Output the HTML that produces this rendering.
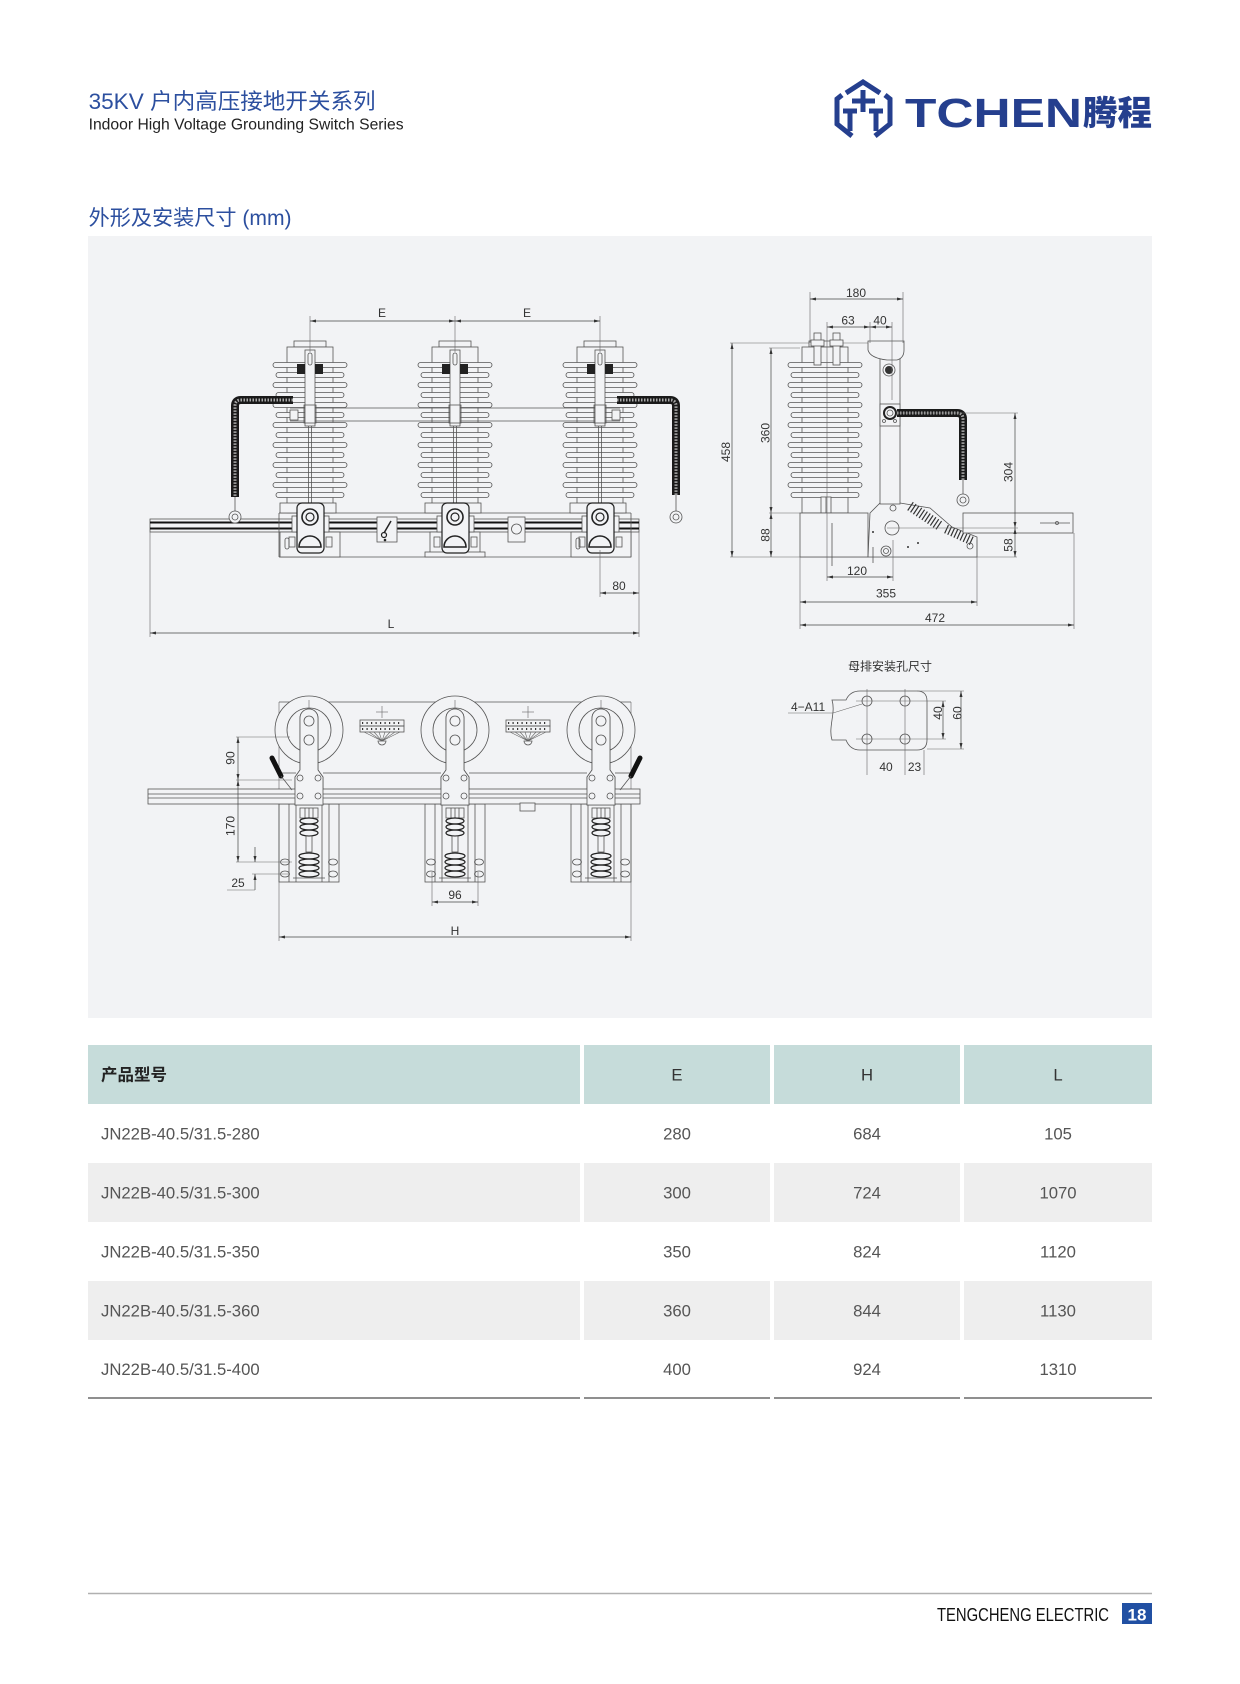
<!DOCTYPE html>
<html><head><meta charset="utf-8"><style>
html,body{margin:0;padding:0;background:#fff}
body{width:1240px;height:1684px;position:relative;overflow:hidden}
svg{position:absolute;left:0;top:0}
.l{stroke:#555;stroke-width:.8;fill:none}
.f{fill:#f2f3f5;stroke:#555;stroke-width:.8}
.d{stroke:#444;stroke-width:.7;fill:none}
.e{stroke:#666;stroke-width:.6;fill:none}
.t{font-family:"Liberation Sans","Noto Sans CJK SC",sans-serif;font-size:12px;fill:#333}
.tc{text-anchor:middle}
.tb{font-family:"Liberation Sans","Noto Sans CJK SC",sans-serif;font-size:16.7px;fill:#555}
</style></head><body>
<svg width="1240" height="1684" viewBox="0 0 1240 1684" xmlns="http://www.w3.org/2000/svg">
<defs>
<marker id="a" viewBox="0 0 8 4" refX="8" refY="2" markerWidth="7" markerHeight="3" markerUnits="userSpaceOnUse" orient="auto-start-reverse"><path d="M0 0 L8 2 L0 4 Z" fill="#333"/></marker>
<g id="ins">
<rect class="f" x="-16" y="341" width="32" height="6"/>
<rect class="f" x="-23" y="347" width="46" height="166"/>
<rect class="f" x="-37" y="362.5" width="74" height="5" rx="2.5"/>
<rect class="f" x="-34" y="372.5" width="68" height="5" rx="2.5"/>
<rect class="f" x="-37" y="382.5" width="74" height="5" rx="2.5"/>
<rect class="f" x="-34" y="392.5" width="68" height="5" rx="2.5"/>
<rect class="f" x="-37" y="402.5" width="74" height="5" rx="2.5"/>
<rect class="f" x="-34" y="412.5" width="68" height="5" rx="2.5"/>
<rect class="f" x="-37" y="422.5" width="74" height="5" rx="2.5"/>
<rect class="f" x="-34" y="432.5" width="68" height="5" rx="2.5"/>
<rect class="f" x="-37" y="442.5" width="74" height="5" rx="2.5"/>
<rect class="f" x="-34" y="452.5" width="68" height="5" rx="2.5"/>
<rect class="f" x="-37" y="462.5" width="74" height="5" rx="2.5"/>
<rect class="f" x="-34" y="472.5" width="68" height="5" rx="2.5"/>
<rect class="f" x="-37" y="482.5" width="74" height="5" rx="2.5"/>
<rect class="f" x="-34" y="492.5" width="68" height="5" rx="2.5"/>
</g>
<g id="blade">
<rect class="f" x="-5" y="350" width="10" height="76"/>
<rect class="l" x="-2" y="353" width="4" height="12" rx="2"/>
<rect x="-13" y="364" width="8" height="10" fill="#222"/>
<rect x="5" y="364" width="8" height="10" fill="#222"/>
<rect class="l" x="-6" y="405" width="12" height="18"/>
<line class="l" x1="-1.5" y1="426" x2="-1.5" y2="505"/>
<line class="l" x1="1.5" y1="426" x2="1.5" y2="505"/>
</g>
<g id="mech">
<rect class="f" x="-30" y="503" width="56" height="10"/>
<rect class="f" x="-18" y="516" width="5" height="16"/>
<rect class="f" x="14" y="516" width="5" height="16"/>
<rect x="-13" y="503" width="27" height="50" rx="5" fill="#f2f3f5" stroke="#222" stroke-width="1.2"/>
<circle cx="0" cy="517" r="8" fill="none" stroke="#222" stroke-width="1.6"/>
<circle cx="0" cy="517" r="4" fill="none" stroke="#222" stroke-width="1.2"/>
<path d="M-11 547 A11 11 0 0 1 11 547 Z" fill="none" stroke="#222" stroke-width="1.6"/>
<rect class="l" x="-21" y="537" width="6" height="10"/>
<rect class="l" x="16" y="537" width="6" height="10"/>
</g>
<g id="plan">
<circle class="f" cx="0" cy="730" r="34"/>
<circle class="l" cx="0" cy="730" r="22"/>
<line class="e" x1="0" y1="700" x2="0" y2="762"/>
<path class="f" d="M-9 770 V718 A9 9 0 0 1 9 718 V770 L14 777 V805 H-14 V777 Z"/>
<circle class="l" cx="0" cy="721" r="5" stroke="#222" stroke-width="1.3"/>
<circle class="l" cx="0" cy="740" r="5" stroke="#222" stroke-width="1.3"/>
<line class="l" x1="-14" y1="778" x2="14" y2="778"/>
<circle class="l" cx="-9" cy="778" r="3"/><circle class="l" cx="9" cy="778" r="3"/>
<circle class="l" cx="-9" cy="796" r="3"/><circle class="l" cx="9" cy="796" r="3"/>
<rect class="l" x="-30" y="804" width="60" height="78"/>
<line class="l" x1="-20" y1="804" x2="-20" y2="882"/><line class="l" x1="20" y1="804" x2="20" y2="882"/>
<line class="l" x1="-13" y1="804" x2="-13" y2="882"/><line class="l" x1="13" y1="804" x2="13" y2="882"/>
<ellipse class="l" cx="-24" cy="862" rx="4.5" ry="3"/><ellipse class="l" cx="24" cy="862" rx="4.5" ry="3"/>
<ellipse class="l" cx="-24" cy="874" rx="4.5" ry="3"/><ellipse class="l" cx="24" cy="874" rx="4.5" ry="3"/>
<rect class="l" x="-9" y="808" width="18" height="10"/>
<line class="l" x1="-4" y1="808" x2="-4" y2="818"/><line class="l" x1="0" y1="808" x2="0" y2="818"/><line class="l" x1="4" y1="808" x2="4" y2="818"/>
<ellipse cx="0" cy="821" rx="9" ry="3" fill="none" stroke="#222" stroke-width="1.2"/>
<ellipse cx="0" cy="827" rx="9" ry="3" fill="none" stroke="#222" stroke-width="1.2"/>
<ellipse cx="0" cy="833" rx="9" ry="3" fill="none" stroke="#222" stroke-width="1.2"/>
<rect class="l" x="-3" y="836" width="6" height="16"/>
<ellipse cx="0" cy="856" rx="10" ry="3" fill="none" stroke="#222" stroke-width="1.2"/>
<ellipse cx="0" cy="862" rx="10" ry="3" fill="none" stroke="#222" stroke-width="1.2"/>
<ellipse cx="0" cy="868" rx="10" ry="3" fill="none" stroke="#222" stroke-width="1.2"/>
<ellipse cx="0" cy="874" rx="10" ry="3" fill="none" stroke="#222" stroke-width="1.2"/>
<line class="l" x1="-16" y1="878" x2="16" y2="878"/>
</g>
<g id="tb">
<rect class="l" x="-22" y="720" width="44" height="6"/>
<rect class="l" x="-22" y="726" width="44" height="6"/>
<line x1="-20" y1="723" x2="20" y2="723" stroke="#333" stroke-width="2" stroke-dasharray="1.2 3.3"/>
<line x1="-20" y1="729" x2="20" y2="729" stroke="#333" stroke-width="2" stroke-dasharray="1.2 3.3"/>
<line class="e" x1="-6" y1="712" x2="6" y2="712"/><line class="e" x1="0" y1="706" x2="0" y2="718"/>
<path class="e" d="M-18 732 L0 741 M-13 732 L0 741 M-8 732 L0 741 M-3 732 L0 741 M3 732 L0 741 M8 732 L0 741 M13 732 L0 741 M18 732 L0 741"/>
<path class="l" d="M-4 741 A4 4 0 0 0 4 741 Z"/>
</g>
</defs>

<!-- header -->
<text x="88.6" y="109" font-family="'Liberation Sans','Noto Sans CJK SC',sans-serif" font-size="22" fill="#2c4f9f" textLength="287" lengthAdjust="spacingAndGlyphs">35KV 户内高压接地开关系列</text>
<text x="88.6" y="129.5" font-family="'Liberation Sans',sans-serif" font-size="15.5" fill="#222" textLength="315" lengthAdjust="spacingAndGlyphs">Indoor High Voltage Grounding Switch Series</text>
<!-- logo -->
<g fill="none" stroke="#253f8e" stroke-width="5" stroke-linejoin="miter">
<polyline points="842,95 837,99 837,124 852,136"/>
<polyline points="885,95 890,99 890,124 875,136"/>
<polyline points="846,93 863,82 880,93"/>
<polyline points="852,101 875,101"/>
<polyline points="863,90 863,112"/>
<polyline points="843,111 857,111"/>
<polyline points="850,111 850,131"/>
<polyline points="869,111 883,111"/>
<polyline points="876,111 876,131"/>
</g>
<text x="905" y="127" font-family="'Liberation Sans',sans-serif" font-weight="bold" font-size="40.5" fill="#253f8e" textLength="177" lengthAdjust="spacingAndGlyphs">TCHEN</text>
<text x="1083" y="125" font-family="'Noto Sans CJK SC','WenQuanYi Zen Hei',sans-serif" font-weight="900" font-size="34" fill="#253f8e" textLength="69" lengthAdjust="spacingAndGlyphs">腾程</text>
<text x="88.6" y="225" font-family="'Liberation Sans','Noto Sans CJK SC',sans-serif" font-size="21" fill="#2c4f9f" textLength="203" lengthAdjust="spacingAndGlyphs">外形及安装尺寸 (mm)</text>

<!-- panel -->
<rect x="88" y="236" width="1064" height="782" fill="#f2f3f5"/>

<!-- ========== FRONT VIEW ========== -->
<!-- rail -->
<rect class="f" x="150" y="519" width="489" height="13"/>
<line x1="150" y1="522.5" x2="639" y2="522.5" stroke="#111" stroke-width="2"/>
<line x1="150" y1="528.5" x2="639" y2="528.5" stroke="#111" stroke-width="2"/>
<!-- base -->
<line class="l" x1="279" y1="513" x2="631" y2="513"/>
<line class="l" x1="279" y1="557" x2="631" y2="557"/>
<line class="l" x1="279" y1="513" x2="279" y2="557"/>
<line class="l" x1="631" y1="513" x2="631" y2="557"/>
<rect class="f" x="280" y="532" width="60" height="25"/>
<rect class="l" x="285" y="538" width="4" height="11" rx="2"/>
<rect class="f" x="571" y="532" width="60" height="25"/>
<rect class="l" x="576" y="538" width="4" height="11" rx="2"/>
<rect class="f" x="430" y="532" width="50" height="21"/>
<rect class="f" x="425" y="552" width="60" height="5"/>
<!-- insulators -->
<use href="#ins" x="310"/><use href="#ins" x="455"/><use href="#ins" x="600"/>
<!-- bar -->
<line class="l" x1="290" y1="408" x2="620" y2="408"/>
<line class="l" x1="290" y1="421" x2="620" y2="421"/>
<rect class="f" x="290" y="410" width="8" height="10"/>
<rect class="f" x="612" y="410" width="8" height="10"/>
<use href="#blade" x="310"/><use href="#blade" x="455"/><use href="#blade" x="600"/>
<use href="#mech" x="310"/><use href="#mech" x="455"/><use href="#mech" x="600"/>
<!-- hook & circle boxes -->
<rect class="f" x="377" y="517" width="20" height="25"/>
<path d="M391 521 L384 533" stroke="#222" stroke-width="1.5" fill="none"/><circle cx="384" cy="535" r="2.5" fill="none" stroke="#222" stroke-width="1.2"/><circle cx="385" cy="540" r="1.3" fill="#222"/>
<rect class="f" x="508" y="517" width="17" height="25"/>
<circle class="l" cx="516.5" cy="529" r="5"/>
<!-- cables front -->
<path d="M293 400 H241 Q235 400 235 406 V497" fill="none" stroke="#1a1a1a" stroke-width="8"/>
<path d="M293 400 H241 Q235 400 235 406 V497" fill="none" stroke="#aaa" stroke-width="3" stroke-dasharray="1.5 1.5"/>
<line class="l" x1="235" y1="497" x2="235" y2="511"/>
<circle class="f" cx="235" cy="517" r="6"/><circle class="l" cx="235" cy="517" r="3"/>
<path d="M617 400 H670 Q676 400 676 406 V495" fill="none" stroke="#1a1a1a" stroke-width="8"/>
<path d="M617 400 H670 Q676 400 676 406 V495" fill="none" stroke="#aaa" stroke-width="3" stroke-dasharray="1.5 1.5"/>
<line class="l" x1="676" y1="495" x2="676" y2="511"/>
<circle class="f" cx="676" cy="517" r="6"/><circle class="l" cx="676" cy="517" r="3"/>
<!-- front dims -->
<line class="e" x1="310" y1="316" x2="310" y2="352"/>
<line class="e" x1="455" y1="316" x2="455" y2="352"/>
<line class="e" x1="600" y1="316" x2="600" y2="352"/>
<line class="d" x1="310" y1="321" x2="455" y2="321" marker-start="url(#a)" marker-end="url(#a)"/>
<line class="d" x1="455" y1="321" x2="600" y2="321" marker-start="url(#a)" marker-end="url(#a)"/>
<text class="t tc" x="382" y="317">E</text>
<text class="t tc" x="527" y="317">E</text>
<line class="e" x1="150" y1="532" x2="150" y2="637"/>
<line class="e" x1="639" y1="532" x2="639" y2="637"/>
<line class="e" x1="600" y1="550" x2="600" y2="597"/>
<line class="d" x1="600" y1="593" x2="639" y2="593" marker-start="url(#a)" marker-end="url(#a)"/>
<text class="t tc" x="619" y="590">80</text>
<line class="d" x1="150" y1="633" x2="639" y2="633" marker-start="url(#a)" marker-end="url(#a)"/>
<text class="t tc" x="391" y="628">L</text>

<!-- ========== SIDE VIEW ========== -->
<line class="e" x1="730" y1="343" x2="904" y2="343"/>
<line class="e" x1="769" y1="348" x2="800" y2="348"/>
<line class="e" x1="769" y1="513" x2="800" y2="513"/>
<line class="e" x1="730" y1="557" x2="1017" y2="557"/>
<use href="#ins" x="825"/>
<rect class="f" x="814" y="333" width="7" height="32"/><rect class="f" x="811" y="340" width="13" height="6"/>
<rect class="f" x="833" y="333" width="7" height="32"/><rect class="f" x="830" y="340" width="13" height="6"/>
<rect class="f" x="821" y="497" width="10" height="16"/><line class="l" x1="826" y1="497" x2="826" y2="513"/>
<rect class="f" x="800" y="513" width="68" height="44"/>
<line class="l" x1="832" y1="523" x2="832" y2="566"/>
<path class="f" d="M880 503 L870 513 L868 557 L977 557 L977 537 L952 527 L930 508 L900 503 Z"/>
<rect class="f" x="880" y="356" width="20" height="148"/>
<path class="f" d="M868 341 H904 V350 Q904 358 897 360 H887 Q870 358 868 350 Z"/>
<circle cx="889" cy="370" r="4" fill="#333"/><circle class="l" cx="889" cy="370" r="6"/>
<rect class="f" x="880" y="404" width="20" height="22"/>
<circle cx="890" cy="413" r="6" fill="none" stroke="#222" stroke-width="2"/><circle class="l" cx="890" cy="413" r="3"/>
<circle class="l" cx="884" cy="421" r="1.5"/><circle class="l" cx="895" cy="421" r="1.5"/>
<line x1="910" y1="506" x2="940" y2="526" stroke="#333" stroke-width="10" stroke-dasharray="1.2 2.2"/>
<line x1="946" y1="529" x2="972" y2="541" stroke="#333" stroke-width="9" stroke-dasharray="1.2 2.2"/>
<circle class="f" cx="892" cy="528" r="7" stroke="#222" stroke-width="1.3"/>
<circle class="l" cx="886" cy="551" r="5"/><circle class="l" cx="886" cy="551" r="2.5"/>
<circle class="l" cx="893" cy="508" r="3"/>
<circle cx="873" cy="532" r="1" fill="#333"/><circle cx="908" cy="547" r="1" fill="#333"/><circle cx="918" cy="543" r="1" fill="#333"/>
<circle class="l" cx="970" cy="546" r="3"/>
<line class="l" x1="873" y1="547" x2="873" y2="563"/>
<rect class="f" x="963" y="513" width="110" height="20"/>
<line class="l" x1="1040" y1="523" x2="1070" y2="523"/><circle class="l" cx="1057" cy="523" r="1.5"/>
<path d="M897 413 H957 Q963 413 963 419 V480" fill="none" stroke="#1a1a1a" stroke-width="8"/>
<path d="M897 413 H957 Q963 413 963 419 V480" fill="none" stroke="#aaa" stroke-width="3" stroke-dasharray="1.5 1.5"/>
<line class="l" x1="963" y1="480" x2="963" y2="494"/>
<circle class="f" cx="963" cy="500" r="6"/><circle class="l" cx="963" cy="500" r="3"/>
<!-- side dims -->
<line class="e" x1="810" y1="292" x2="810" y2="343"/>
<line class="e" x1="903" y1="292" x2="903" y2="343"/>
<line class="d" x1="810" y1="299" x2="903" y2="299" marker-start="url(#a)" marker-end="url(#a)"/>
<text class="t tc" x="856" y="297">180</text>
<line class="e" x1="827" y1="322" x2="827" y2="581"/>
<line class="e" x1="870" y1="322" x2="870" y2="343"/>
<line class="e" x1="892" y1="322" x2="892" y2="400"/>
<line class="d" x1="827" y1="327" x2="870" y2="327" marker-start="url(#a)" marker-end="url(#a)"/>
<line class="d" x1="870" y1="327" x2="892" y2="327" marker-start="url(#a)" marker-end="url(#a)"/>
<text class="t tc" x="848" y="324.5">63</text>
<text class="t tc" x="880" y="324.5">40</text>
<line class="d" x1="732" y1="343" x2="732" y2="557" marker-start="url(#a)" marker-end="url(#a)"/>
<text class="t tc" x="730" y="452" transform="rotate(-90 730 452)">458</text>
<line class="d" x1="771" y1="348" x2="771" y2="513" marker-start="url(#a)" marker-end="url(#a)"/>
<text class="t tc" x="769.5" y="433" transform="rotate(-90 769.5 433)">360</text>
<line class="d" x1="771" y1="513" x2="771" y2="557" marker-start="url(#a)" marker-end="url(#a)"/>
<text class="t tc" x="769.5" y="535" transform="rotate(-90 769.5 535)">88</text>
<line class="e" x1="897" y1="413" x2="1018" y2="413"/>
<line class="e" x1="887" y1="528" x2="1018" y2="528"/>
<line class="d" x1="1015" y1="413" x2="1015" y2="528" marker-start="url(#a)" marker-end="url(#a)"/>
<text class="t tc" x="1012.5" y="472" transform="rotate(-90 1012.5 472)">304</text>
<line class="d" x1="1015" y1="528" x2="1015" y2="557" marker-start="url(#a)" marker-end="url(#a)"/>
<text class="t tc" x="1012.5" y="545" transform="rotate(-90 1012.5 545)">58</text>
<line class="e" x1="893" y1="540" x2="893" y2="581"/>
<line class="d" x1="827" y1="577" x2="893" y2="577" marker-start="url(#a)" marker-end="url(#a)"/>
<text class="t tc" x="857" y="575">120</text>
<line class="e" x1="800" y1="557" x2="800" y2="629"/>
<line class="e" x1="977" y1="540" x2="977" y2="606"/>
<line class="e" x1="1074" y1="533" x2="1074" y2="629"/>
<line class="d" x1="800" y1="602" x2="977" y2="602" marker-start="url(#a)" marker-end="url(#a)"/>
<text class="t tc" x="886" y="597.5">355</text>
<line class="d" x1="800" y1="625" x2="1074" y2="625" marker-start="url(#a)" marker-end="url(#a)"/>
<text class="t tc" x="935" y="622">472</text>

<!-- ========== BUSBAR ========== -->
<text class="t tc" x="890" y="670.5" font-size="12.5">母排安装孔尺寸</text>
<path class="f" d="M832 700 L846 700 Q850 691 860 691 L917 691 Q927 691 927 701 L927 740 Q927 750 917 750 L860 750 Q850 750 846 740 L832 740 C828 727 836 713 832 700 Z"/>
<line class="e" x1="856" y1="701" x2="946" y2="701"/>
<line class="e" x1="856" y1="739" x2="946" y2="739"/>
<line class="e" x1="867" y1="689" x2="867" y2="775"/>
<line class="e" x1="905" y1="689" x2="905" y2="775"/>
<line class="e" x1="924" y1="750" x2="924" y2="775"/>
<circle class="l" cx="867" cy="701" r="5"/><circle class="l" cx="905" cy="701" r="5"/>
<circle class="l" cx="867" cy="739" r="5"/><circle class="l" cx="905" cy="739" r="5"/>
<line class="d" x1="943" y1="701" x2="943" y2="739" marker-start="url(#a)" marker-end="url(#a)"/>
<text class="t tc" x="942" y="713" transform="rotate(-90 942 713)">40</text>
<line class="e" x1="917" y1="691" x2="964" y2="691"/>
<line class="e" x1="927" y1="749" x2="964" y2="749"/>
<line class="d" x1="961" y1="691" x2="961" y2="749" marker-start="url(#a)" marker-end="url(#a)"/>
<text class="t tc" x="961.5" y="713" transform="rotate(-90 961.5 713)">60</text>
<text class="t tc" x="886" y="771">40</text>
<text class="t tc" x="914.5" y="771">23</text>
<text class="t" x="791" y="711">4−A11</text>
<polyline class="e" points="788,713 833,713 862,704"/>

<!-- ========== PLAN VIEW ========== -->
<line class="l" x1="279" y1="702" x2="631" y2="702"/>
<line class="e" x1="279" y1="702" x2="279" y2="941"/>
<line class="e" x1="631" y1="702" x2="631" y2="941"/>
<use href="#plan" x="309"/><use href="#plan" x="455"/><use href="#plan" x="601"/>
<line class="l" x1="279" y1="773" x2="296" y2="773"/><line class="l" x1="323" y1="773" x2="441" y2="773"/><line class="l" x1="469" y1="773" x2="587" y2="773"/><line class="l" x1="615" y1="773" x2="631" y2="773"/>
<rect class="f" x="148" y="789" width="492" height="15"/>
<line class="l" x1="148" y1="794" x2="640" y2="794"/>
<line class="l" x1="148" y1="798" x2="640" y2="798"/>
<path class="f" d="M296 777 L323 777 L323 805 L296 805 Z" opacity="0"/>
<use href="#plan" x="309" opacity="0"/>
<!-- redraw plates over rail -->
<path class="f" d="M295 770 V718 A9 9 0 0 1 313 718 V770 L318 777 V805 H290 V777 Z" transform="translate(5 0)" opacity="0"/>
<g>
<path class="f" d="M300 770 V718 A9 9 0 0 1 318 718 V770 L323 777 V805 H295 V777 Z"/>
<circle class="l" cx="309" cy="721" r="5" stroke="#222" stroke-width="1.3"/><circle class="l" cx="309" cy="740" r="5" stroke="#222" stroke-width="1.3"/>
<circle class="l" cx="300" cy="778" r="3"/><circle class="l" cx="318" cy="778" r="3"/><circle class="l" cx="300" cy="796" r="3"/><circle class="l" cx="318" cy="796" r="3"/>
<path class="f" d="M446 770 V718 A9 9 0 0 1 464 718 V770 L469 777 V805 H441 V777 Z"/>
<circle class="l" cx="455" cy="721" r="5" stroke="#222" stroke-width="1.3"/><circle class="l" cx="455" cy="740" r="5" stroke="#222" stroke-width="1.3"/>
<circle class="l" cx="446" cy="778" r="3"/><circle class="l" cx="464" cy="778" r="3"/><circle class="l" cx="446" cy="796" r="3"/><circle class="l" cx="464" cy="796" r="3"/>
<path class="f" d="M592 770 V718 A9 9 0 0 1 610 718 V770 L615 777 V805 H587 V777 Z"/>
<circle class="l" cx="601" cy="721" r="5" stroke="#222" stroke-width="1.3"/><circle class="l" cx="601" cy="740" r="5" stroke="#222" stroke-width="1.3"/>
<circle class="l" cx="592" cy="778" r="3"/><circle class="l" cx="610" cy="778" r="3"/><circle class="l" cx="592" cy="796" r="3"/><circle class="l" cx="610" cy="796" r="3"/>
</g>
<rect class="f" x="520" y="803" width="15" height="8"/>
<use href="#tb" x="382"/><use href="#tb" x="528"/>
<path d="M272 758 L281 776" stroke="#111" stroke-width="5" stroke-linecap="round"/>
<line class="l" x1="281" y1="776" x2="292" y2="790"/>
<path d="M640 758 L631 776" stroke="#111" stroke-width="5" stroke-linecap="round"/>
<line class="l" x1="631" y1="776" x2="620" y2="790"/>
<!-- plan dims -->
<line class="e" x1="236" y1="737" x2="290" y2="737"/>
<line class="e" x1="236" y1="780" x2="292" y2="780"/>
<line class="e" x1="236" y1="862" x2="292" y2="862"/>
<line class="e" x1="252" y1="874" x2="290" y2="874"/>
<line class="d" x1="238" y1="737" x2="238" y2="780" marker-start="url(#a)" marker-end="url(#a)"/>
<text class="t tc" x="234.5" y="758" transform="rotate(-90 234.5 758)">90</text>
<line class="d" x1="238" y1="780" x2="238" y2="862" marker-start="url(#a)" marker-end="url(#a)"/>
<text class="t tc" x="234.5" y="826" transform="rotate(-90 234.5 826)">170</text>
<line class="d" x1="255" y1="847" x2="255" y2="862" marker-end="url(#a)"/>
<line class="d" x1="255" y1="890" x2="255" y2="874" marker-end="url(#a)"/>
<line class="e" x1="227" y1="890" x2="255" y2="890"/>
<text class="t tc" x="238" y="887">25</text>
<line class="e" x1="432" y1="872" x2="432" y2="906"/>
<line class="e" x1="478" y1="872" x2="478" y2="906"/>
<line class="d" x1="432" y1="902" x2="478" y2="902" marker-start="url(#a)" marker-end="url(#a)"/>
<text class="t tc" x="455" y="899">96</text>
<line class="d" x1="279" y1="937" x2="631" y2="937" marker-start="url(#a)" marker-end="url(#a)"/>
<text class="t tc" x="455" y="935">H</text>

<!-- ========== TABLE ========== -->
<g fill="#c6dcda">
<rect x="88" y="1045" width="492" height="59"/><rect x="584" y="1045" width="186" height="59"/><rect x="774" y="1045" width="186" height="59"/><rect x="964" y="1045" width="188" height="59"/>
</g>
<g fill="#eeeeee">
<rect x="88" y="1163" width="492" height="59"/><rect x="584" y="1163" width="186" height="59"/><rect x="774" y="1163" width="186" height="59"/><rect x="964" y="1163" width="188" height="59"/>
<rect x="88" y="1281" width="492" height="59"/><rect x="584" y="1281" width="186" height="59"/><rect x="774" y="1281" width="186" height="59"/><rect x="964" y="1281" width="188" height="59"/>
</g>
<g stroke="#6a6a6a" stroke-width="1.5">
<line x1="88" y1="1398" x2="580" y2="1398"/><line x1="584" y1="1398" x2="770" y2="1398"/><line x1="774" y1="1398" x2="960" y2="1398"/><line x1="964" y1="1398" x2="1152" y2="1398"/>
</g>
<text x="101" y="1080.5" font-family="'Noto Sans CJK SC','Liberation Sans',sans-serif" font-weight="bold" font-size="16.5" fill="#222">产品型号</text>
<g font-family="'Liberation Sans',sans-serif" font-size="16.7" fill="#333" text-anchor="middle">
<text x="677" y="1080.5">E</text><text x="867" y="1080.5">H</text><text x="1058" y="1080.5">L</text>
</g>
<text class="tb" x="101" y="1139.5">JN22B-40.5/31.5-280</text>
<text class="tb" x="101" y="1198.5">JN22B-40.5/31.5-300</text>
<text class="tb" x="101" y="1257.5">JN22B-40.5/31.5-350</text>
<text class="tb" x="101" y="1316.5">JN22B-40.5/31.5-360</text>
<text class="tb" x="101" y="1375">JN22B-40.5/31.5-400</text>
<g class="tb" text-anchor="middle">
<text class="tb" x="677" y="1139.5" text-anchor="middle">280</text><text class="tb" x="867" y="1139.5" text-anchor="middle">684</text><text class="tb" x="1058" y="1139.5" text-anchor="middle">105</text>
<text class="tb" x="677" y="1198.5" text-anchor="middle">300</text><text class="tb" x="867" y="1198.5" text-anchor="middle">724</text><text class="tb" x="1058" y="1198.5" text-anchor="middle">1070</text>
<text class="tb" x="677" y="1257.5" text-anchor="middle">350</text><text class="tb" x="867" y="1257.5" text-anchor="middle">824</text><text class="tb" x="1058" y="1257.5" text-anchor="middle">1120</text>
<text class="tb" x="677" y="1316.5" text-anchor="middle">360</text><text class="tb" x="867" y="1316.5" text-anchor="middle">844</text><text class="tb" x="1058" y="1316.5" text-anchor="middle">1130</text>
<text class="tb" x="677" y="1375" text-anchor="middle">400</text><text class="tb" x="867" y="1375" text-anchor="middle">924</text><text class="tb" x="1058" y="1375" text-anchor="middle">1310</text>
</g>

<!-- ========== FOOTER ========== -->
<line x1="88" y1="1593.5" x2="1152" y2="1593.5" stroke="#b0b0b0" stroke-width="1.5"/>
<text x="937" y="1621" font-family="'Liberation Sans',sans-serif" font-size="18.5" fill="#111" textLength="172" lengthAdjust="spacingAndGlyphs">TENGCHENG ELECTRIC</text>
<rect x="1122" y="1603" width="30" height="21" fill="#2150a3"/>
<text x="1137" y="1620.5" font-family="'Liberation Sans',sans-serif" font-weight="bold" font-size="17" fill="#fff" text-anchor="middle">18</text>
</svg>
</body></html>
